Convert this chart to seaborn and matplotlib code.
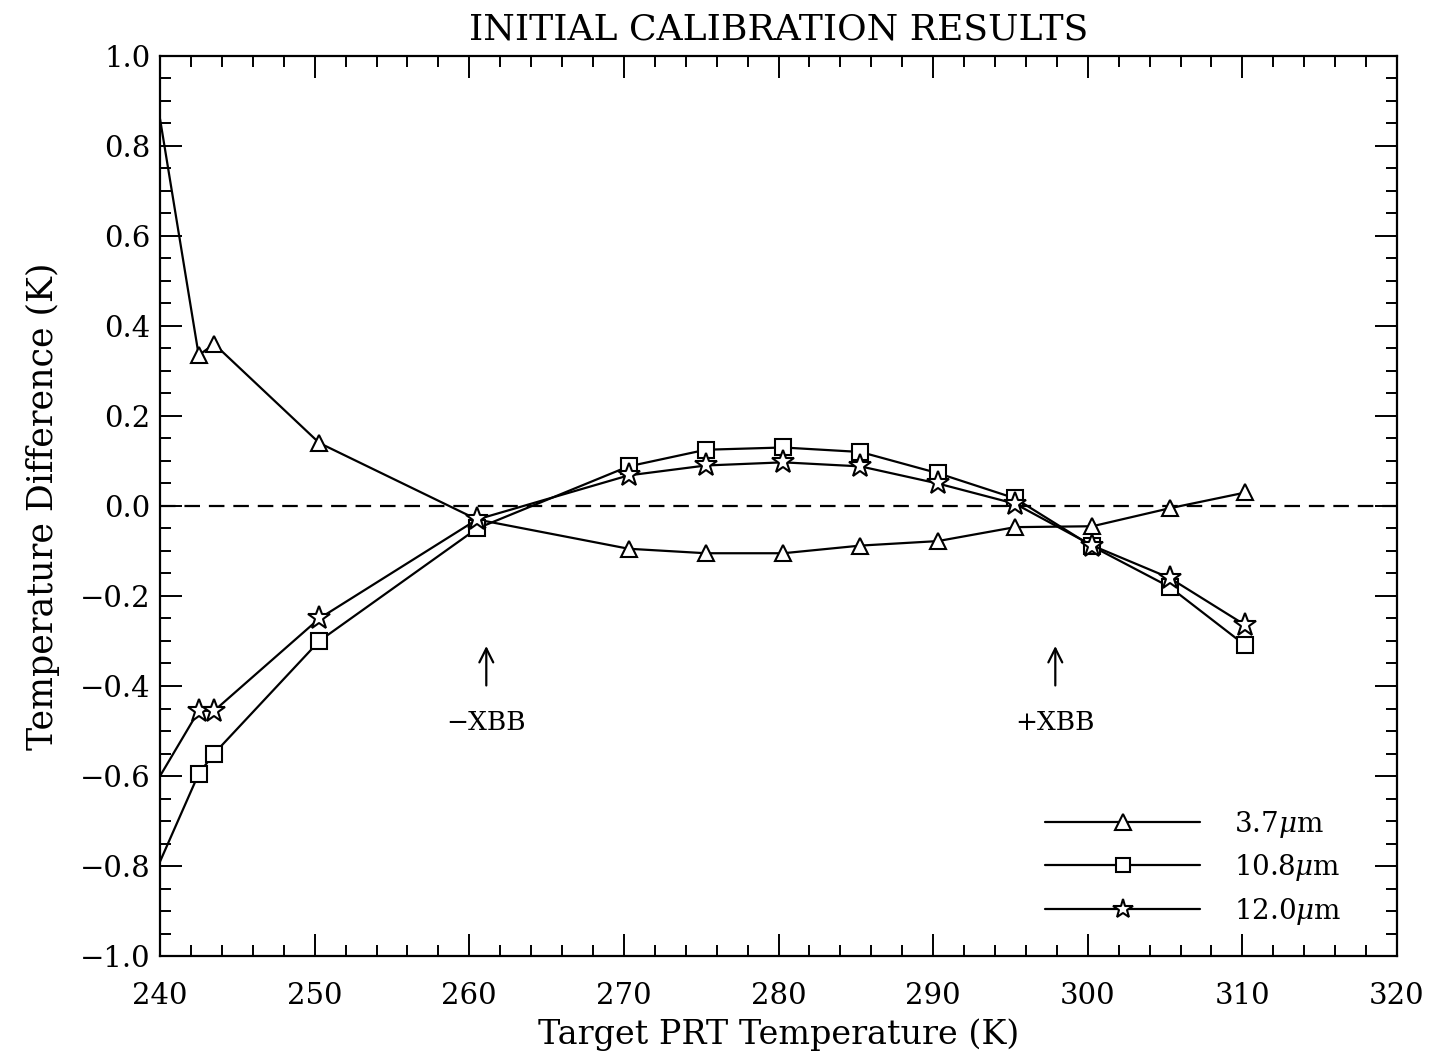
import numpy as np
import pandas as pd
import matplotlib
matplotlib.use("Agg")
import matplotlib.pyplot as plt
import seaborn as sns
from matplotlib.ticker import MultipleLocator
from matplotlib.lines import Line2D

# ---- data ----
temps = [240.0, 242.5, 243.5, 250.3, 260.5, 270.3, 275.3, 280.3, 285.3, 290.3, 295.3, 300.3, 305.3, 310.2]
diff_37 = [0.86, 0.335, 0.36, 0.14, -0.03, -0.095, -0.105, -0.105, -0.088, -0.078, -0.047, -0.045, -0.005, 0.03]
diff_108 = [-0.79, -0.595, -0.55, -0.30, -0.05, 0.088, 0.125, 0.13, 0.12, 0.073, 0.017, -0.09, -0.18, -0.31]
diff_120 = [-0.60, -0.455, -0.455, -0.25, -0.03, 0.068, 0.09, 0.097, 0.088, 0.05, 0.005, -0.088, -0.16, -0.265]
series_labels = [r"3.7$\mu$m", r"10.8$\mu$m", r"12.0$\mu$m"]
series_markers = ["^", "s", "*"]
xbb_positions = [261.1, 297.9]
xbb_labels = ["\u2212XBB", "+XBB"]
x_ticks = [240, 250, 260, 270, 280, 290, 300, 310, 320]
y_ticks = [-1.0, -0.8, -0.6, -0.4, -0.2, 0.0, 0.2, 0.4, 0.6, 0.8, 1.0]

sns.set_theme(style="white")
plt.rcParams["font.family"] = ["DejaVu Serif"]
plt.rcParams["mathtext.fontset"] = "dejavuserif"
for k in ["text.color", "axes.labelcolor", "xtick.color", "ytick.color"]:
    plt.rcParams[k] = "black"

fig = plt.figure(figsize=(14.38, 10.60), dpi=100)
ax = fig.add_axes([0.1113, 0.0981, 0.9715 - 0.1113, 0.9472 - 0.0981])

df = pd.DataFrame({"T": temps, "a": diff_37, "b": diff_108, "c": diff_120})
marker_sizes = [12, 11, 17]
for col, mk, ms in zip(["a", "b", "c"], series_markers, marker_sizes):
    sns.lineplot(data=df, x="T", y=col, ax=ax, color="black", lw=1.6,
                 marker=mk, markersize=ms, markerfacecolor="white",
                 markeredgecolor="black", markeredgewidth=1.5,
                 markevery=list(range(1, len(temps))), sort=False,
                 estimator=None, clip_on=True)

ax.axhline(0.0, color="black", lw=1.6, ls=(0, (7, 4)), zorder=0)

for xp, lab in zip(xbb_positions, xbb_labels):
    ax.annotate("", xy=(xp, -0.305), xytext=(xp, -0.405),
                arrowprops=dict(arrowstyle="->", lw=1.6, color="black",
                                mutation_scale=25))
    ax.text(xp, -0.48, lab, ha="center", va="center", fontsize=19)

ax.set_xlim(240, 320)
ax.set_ylim(-1.0, 1.0)
ax.set_xticks(x_ticks)
ax.set_yticks(y_ticks)
ax.xaxis.set_minor_locator(MultipleLocator(2))
ax.yaxis.set_minor_locator(MultipleLocator(0.05))
ax.tick_params(which="both", direction="in", top=True, right=True,
               bottom=True, left=True, color="black", width=1.4)
ax.tick_params(which="major", length=16, labelsize=21)
ax.tick_params(axis="y", which="major", pad=7)
ax.tick_params(axis="x", which="major", pad=19)
ax.tick_params(which="minor", length=8)
for s in ax.spines.values():
    s.set_color("black")
    s.set_linewidth(1.6)

ax.set_xlabel("Target PRT Temperature (K)", fontsize=24, labelpad=6)
ax.set_ylabel("Temperature Difference (K)", fontsize=25, labelpad=14)
ax.set_title("INITIAL CALIBRATION RESULTS", fontsize=26, pad=12)

handles = [Line2D([], [], color="black", lw=1.6, marker=mk, markersize=ms,
                  markerfacecolor="white", markeredgecolor="black",
                  markeredgewidth=1.5)
           for mk, ms in zip(series_markers, [11, 10, 15])]
leg = ax.legend(handles, series_labels, loc="lower right",
                bbox_to_anchor=(0.975, 0.005), frameon=False, fontsize=20,
                handlelength=5.6, handletextpad=1.2, labelspacing=0.45,
                numpoints=1)

fig.savefig("out.png", dpi=100, facecolor="white")
